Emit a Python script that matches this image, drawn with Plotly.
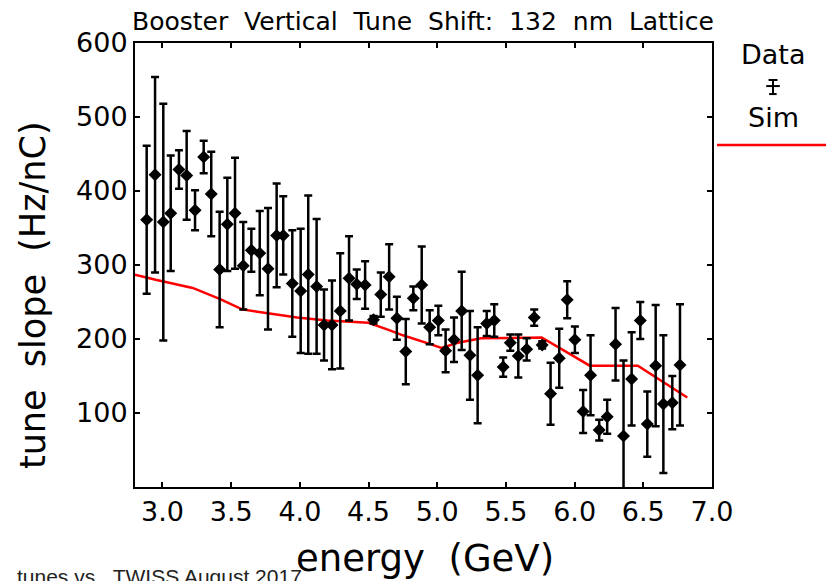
import plotly.graph_objects as go

# ---- data ----
energy = [2.885, 2.946, 3.006, 3.060, 3.120, 3.176, 3.237, 3.300, 3.355, 3.416,
          3.472, 3.528, 3.588, 3.647, 3.708, 3.768, 3.831, 3.879, 3.945, 4.006,
          4.061, 4.122, 4.176, 4.234, 4.294, 4.358, 4.414, 4.475, 4.536, 4.589,
          4.650, 4.706, 4.771, 4.826, 4.887, 4.945, 5.008, 5.061, 5.122, 5.178,
          5.238, 5.294, 5.360, 5.415, 5.480, 5.532, 5.590, 5.651, 5.706, 5.764,
          5.825, 5.888, 5.946, 6.002, 6.062, 6.116, 6.179, 6.237, 6.298, 6.356,
          6.415, 6.478, 6.529, 6.590, 6.646, 6.711, 6.767]
slope = [361, 422, 358, 370, 429, 421, 374, 446, 396, 294,
         355, 370, 299, 320, 316, 295, 340, 340, 275, 265,
         287, 271, 219, 219, 238, 282, 274, 273, 226, 260,
         284, 228, 183, 255, 273, 216, 225, 184, 199, 238,
         178, 151, 221, 225, 162, 195, 177, 186, 229, 192,
         126, 174, 253, 199, 102, 151, 77, 95, 193, 69,
         146, 225, 85, 164, 112, 114, 165]
slope_err = [100, 132, 160, 78, 26, 60, 27, 22, 57, 78,
             63, 75, 59, 29, 57, 82, 70, 53, 72, 84,
             107, 91, 48, 60, 78, 57, 20, 32, 5, 30,
             44, 29, 44, 16, 52, 23, 20, 29, 30, 53,
             60, 65, 17, 22, 13, 11, 29, 15, 11, 5,
             42, 40, 25, 18, 29, 54, 14, 23, 49, 102,
             63, 25, 44, 82, 93, 36, 82]

sim_energy = [2.80, 2.95, 3.22, 3.42, 3.58, 3.76, 3.98, 4.20, 4.50, 4.65,
              4.75, 4.95, 5.03, 5.15, 5.32, 5.76, 6.11, 6.46, 6.82]
sim_slope = [287, 280, 269, 254, 240, 235, 229, 225, 222, 212,
             205, 193, 188, 195, 201, 202, 164, 164, 121]

x_ticks = [3.0, 3.5, 4.0, 4.5, 5.0, 5.5, 6.0, 6.5, 7.0]
y_ticks = [100, 200, 300, 400, 500, 600]

FONT = "DejaVu Sans"
SP = "\u00a0"

fig = go.Figure()
fig.add_trace(go.Scatter(
    x=sim_energy, y=sim_slope, mode="lines",
    line=dict(color="#ff0000", width=2.5), name="Sim", showlegend=False))
fig.add_trace(go.Scatter(
    x=energy, y=slope, mode="markers",
    marker=dict(symbol="diamond", size=10, color="black"),
    error_y=dict(type="data", array=slope_err, visible=True,
                 color="black", thickness=2.5, width=4),
    name="Data", showlegend=False))

axis_common = dict(showline=True, linecolor="black", linewidth=2, mirror="ticks",
                   ticks="inside", ticklen=5, tickwidth=2, tickcolor="black",
                   showgrid=False, zeroline=False,
                   tickfont=dict(family=FONT, size=27, color="black"))

fig.update_xaxes(range=[2.8, 7.0], tickvals=x_ticks,
                 ticktext=[f"{v:.1f}" for v in x_ticks], **axis_common)
fig.update_yaxes(range=[0, 600], tickvals=y_ticks,
                 ticktext=[str(v) for v in y_ticks], **axis_common)

title_txt = (SP * 2).join(["Booster", "Vertical", "Tune", "Shift:", "132", "nm", "Lattice"])

annotations = [
    dict(text=title_txt, x=0.499, y=1.049,
         xref="paper", yref="paper", showarrow=False, xanchor="center", yanchor="middle",
         font=dict(family=FONT, size=25, color="black")),
    dict(text="tunes vs." + SP * 2 + "TWISS August 2017", x=-0.208, y=-0.172,
         xref="paper", yref="paper", showarrow=False, xanchor="left", yanchor="top",
         font=dict(family="Liberation Sans", size=21, color="#222")),
    dict(text="energy" + SP * 2 + "(GeV)", x=0.503, y=-0.162,
         xref="paper", yref="paper", showarrow=False, xanchor="center", yanchor="middle",
         font=dict(family=FONT, size=37, color="black")),
    dict(text="tune" + SP * 2 + "slope" + SP * 2 + "(Hz/nC)", x=-0.177, y=0.432, textangle=-90,
         xref="paper", yref="paper", showarrow=False, xanchor="center", yanchor="middle",
         font=dict(family=FONT, size=35, color="black")),
    dict(text="Data", x=1.106, y=0.973,
         xref="paper", yref="paper", showarrow=False, xanchor="center", yanchor="middle",
         font=dict(family=FONT, size=27, color="black")),
    dict(text="Sim", x=1.106, y=0.833,
         xref="paper", yref="paper", showarrow=False, xanchor="center", yanchor="middle",
         font=dict(family=FONT, size=27, color="black")),
]

# legend glyphs (paper coordinates)
shapes = [
    dict(type="line", xref="paper", yref="paper", x0=1.1057, x1=1.1057, y0=0.885, y1=0.9167,
         line=dict(color="black", width=2)),
    dict(type="line", xref="paper", yref="paper", x0=1.098, x1=1.1135, y0=0.9167, y1=0.9167,
         line=dict(color="black", width=2)),
    dict(type="line", xref="paper", yref="paper", x0=1.094, x1=1.1175, y0=0.903, y1=0.903,
         line=dict(color="black", width=2)),
    dict(type="line", xref="paper", yref="paper", x0=1.099, x1=1.112, y0=0.885, y1=0.885,
         line=dict(color="black", width=2)),
    dict(type="line", xref="paper", yref="paper", x0=1.0087, x1=1.2, y0=0.770, y1=0.770,
         line=dict(color="#ff0000", width=2.5)),
]

fig.update_layout(
    width=826, height=581,
    margin=dict(l=135, r=114, t=43, b=94),
    paper_bgcolor="white", plot_bgcolor="white",
    annotations=annotations, shapes=shapes, showlegend=False)

fig.write_html("out.html")
